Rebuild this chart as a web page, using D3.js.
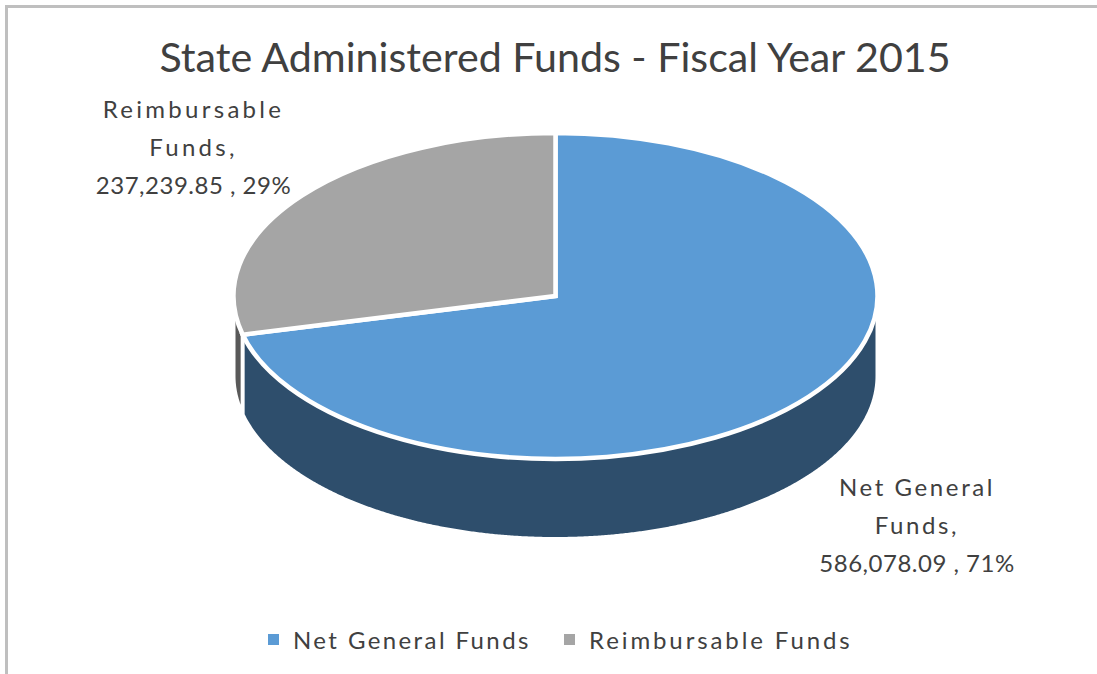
<!DOCTYPE html>
<html>
<head>
<meta charset="utf-8">
<script src="https://cdn.jsdelivr.net/npm/d3@7"></script>
<style>
  html, body { margin: 0; padding: 0; background: #fff; }
  svg { display: block; }
  text { font-family: Lato, sans-serif; fill: #404040; }
</style>
</head>
<body>
<div id="chart"></div>
<script>
const categories = ['Net General Funds', 'Reimbursable Funds'];
const values = [586078.09, 237239.85];
const labelNames = [['Net General', 'Funds,'], ['Reimbursable', 'Funds,']];
const chartTitle = 'State Administered Funds - Fiscal Year 2015';

const topColors = ['#5b9bd5', '#a5a5a5'];
const sideColors = ['#2e4e6c', '#595959'];

const width = 1097, height = 674;
const cx = 555.5, cy = 296;
const rx = 322, ry = 163;
const wallRx = 320, wallRy = 161, depth = 80;

const svg = d3.select('#chart').append('svg')
  .attr('width', width)
  .attr('height', height);

// frame of the chart area
svg.append('rect')
  .attr('x', 6.5)
  .attr('y', 6.5)
  .attr('width', width + 20)
  .attr('height', height + 20)
  .attr('fill', 'none')
  .attr('stroke', '#bfbfbf')
  .attr('stroke-width', 3);

svg.append('text')
  .attr('x', 555)
  .attr('y', 72)
  .attr('text-anchor', 'middle')
  .attr('font-size', 41.2)
  .text(chartTitle);

const pie = d3.pie().sort(null);
const slices = pie(values);

// side walls, only the front half of the pie shows
const wall = d3.area()
  .x(a => cx + wallRx * Math.sin(a))
  .y0(a => cy - wallRy * Math.cos(a))
  .y1(a => cy + depth - wallRy * Math.cos(a));

const wallGap = 0.06;
const wallRanges = [
  [Math.PI / 2, slices[0].endAngle],
  [slices[1].startAngle + wallGap, 3 * Math.PI / 2]
];

svg.selectAll('.wall')
  .data(wallRanges)
  .enter()
  .append('path')
  .attr('class', 'wall')
  .attr('fill', (d, i) => sideColors[i])
  .attr('d', d => wall(d3.range(d[0], d[1], 0.005).concat(d[1])));

// top surface
const arc = d3.arc().innerRadius(0).outerRadius(rx);

svg.append('g')
  .attr('transform', 'translate(' + cx + ',' + cy + ') scale(1,' + (ry / rx) + ')')
  .selectAll('path')
  .data(slices)
  .enter()
  .append('path')
  .attr('d', arc)
  .attr('fill', (d, i) => topColors[i])
  .attr('stroke', '#fff')
  .attr('stroke-width', 4.5)
  .attr('vector-effect', 'non-scaling-stroke');

// data labels
const total = d3.sum(values);
const fmt = d3.format(',.2f');
const labelPos = [[917, 496], [193.5, 118]];
const labelSpacing = [2.6, 3.3];

const labels = svg.selectAll('.label')
  .data(slices)
  .enter()
  .append('text')
  .attr('class', 'label')
  .attr('text-anchor', 'middle')
  .attr('font-size', 24);

labels.each(function (d, i) {
  const lines = labelNames[i].concat(fmt(d.value) + ' , ' + Math.round(d.value / total * 100) + '%');
  d3.select(this).selectAll('tspan')
    .data(lines)
    .enter()
    .append('tspan')
    .attr('x', labelPos[i][0])
    .attr('y', (l, k) => labelPos[i][1] + k * 38)
    .attr('letter-spacing', (l, k) => k < 2 ? labelSpacing[i] : 0.5)
    .text(l => l);
});

// legend
const legendX = [268, 564];
const legendSpacing = [2.4, 2.9];
const legend = svg.selectAll('.legend')
  .data(categories)
  .enter()
  .append('g')
  .attr('class', 'legend')
  .attr('transform', (d, i) => 'translate(' + legendX[i] + ', 0)');

legend.append('rect')
  .attr('x', 0)
  .attr('y', 634)
  .attr('width', 11)
  .attr('height', 11)
  .attr('fill', (d, i) => topColors[i]);

legend.append('text')
  .attr('x', 25)
  .attr('y', 649)
  .attr('font-size', 24)
  .attr('letter-spacing', (d, i) => legendSpacing[i])
  .text(d => d);
</script>
</body>
</html>
